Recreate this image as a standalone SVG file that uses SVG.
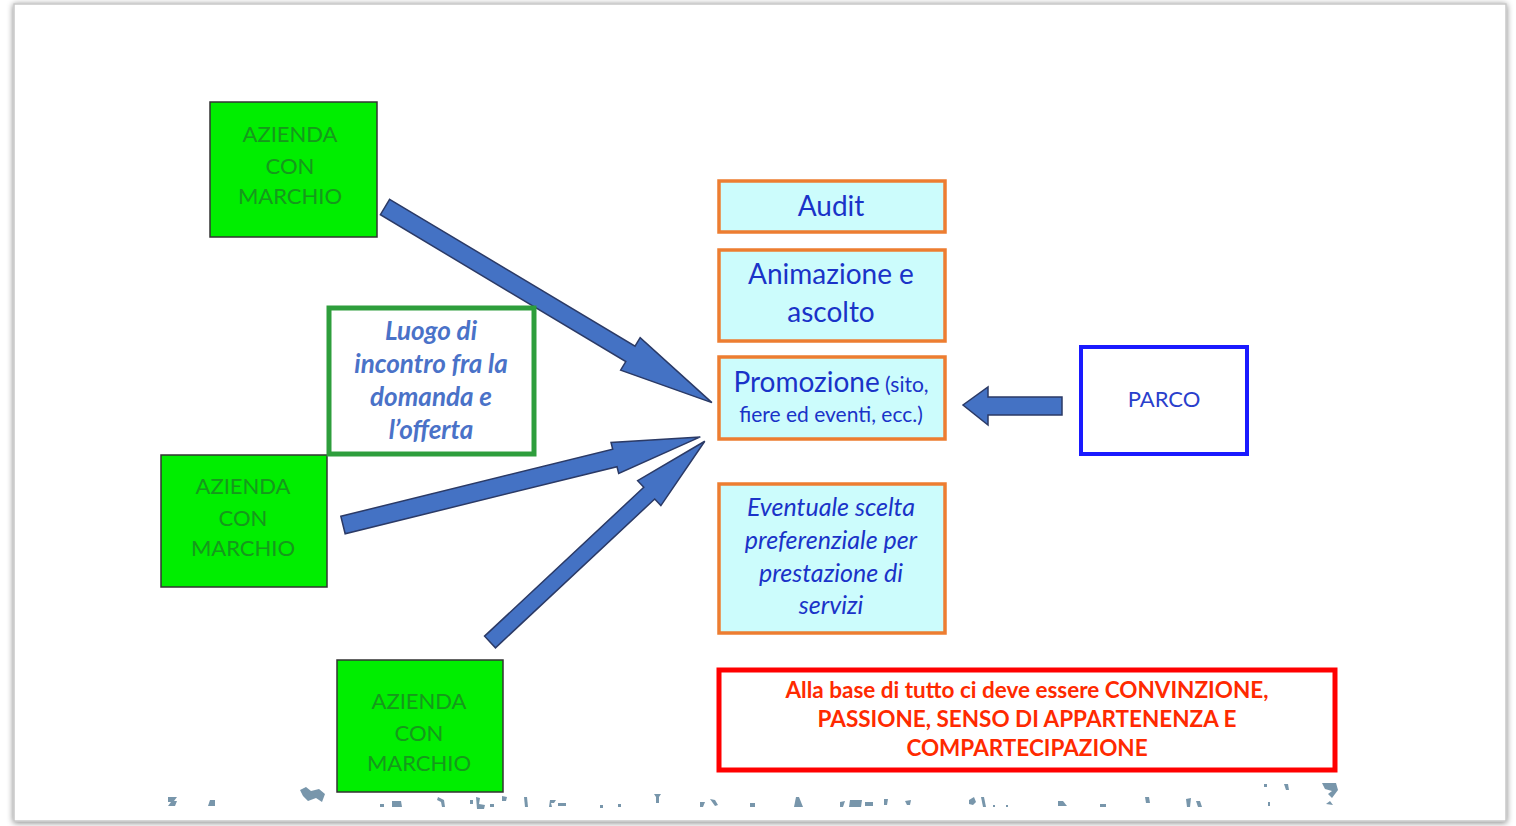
<svg xmlns="http://www.w3.org/2000/svg" width="1516" height="826" viewBox="0 0 1516 826">
<defs>
<filter id="sh" x="-5%" y="-5%" width="110%" height="110%">
<feGaussianBlur in="SourceAlpha" stdDeviation="3"/>
<feOffset dx="0" dy="1"/>
<feComponentTransfer><feFuncA type="linear" slope="0.5"/></feComponentTransfer>
<feMerge><feMergeNode/><feMergeNode in="SourceGraphic"/></feMerge>
</filter>
</defs>
<style>
.az{fill:#00ee00;stroke:#333;stroke-width:1.5}
.azt{font-family:Lato,"Liberation Sans",sans-serif;font-weight:400;font-size:22px;fill:#16981c;text-anchor:middle}
.cy{fill:#ccfcfc;stroke:#ed7d31;stroke-width:3.5}
.bt{font-family:Lato,"Liberation Sans",sans-serif;fill:#1a33c8;text-anchor:middle}
.arr{fill:#4472c4;stroke:#2b3a66;stroke-width:1.5;stroke-linejoin:miter}
.frag{fill:#7896ab}
</style>
<rect width="1516" height="826" fill="#ffffff"/>
<rect x="14" y="4" width="1492" height="817" fill="#ffffff" stroke="#c8c8c8" stroke-width="1.5" filter="url(#sh)"/>

<g id="connectors">
<polygon class="arr" transform="translate(385,207) rotate(30.9)" points="0,-9 286,-9 286,-19 381,0 286,19 286,9 0,9"/>
<polygon class="arr" transform="translate(343,525) rotate(-13.85)" points="0,-9 280,-9 280,-16 368,0 280,16 280,9 0,9"/>
<polygon class="arr" transform="translate(490,642) rotate(-43.07)" points="0,-8 218,-8 218,-17 294,0 218,17 218,8 0,8"/>
<polygon class="arr" points="1062,397 988,397 988,387 963,405 988,425 988,415 1062,415"/>
</g>

<g id="azienda1">
<rect class="az" x="210" y="102" width="167" height="135"/>
<text class="azt" x="290" y="142">AZIENDA</text>
<text class="azt" x="290" y="174">CON</text>
<text class="azt" x="290" y="204">MARCHIO</text>
</g>
<g id="azienda2">
<rect class="az" x="161" y="455" width="166" height="132"/>
<text class="azt" x="243" y="494">AZIENDA</text>
<text class="azt" x="243" y="526">CON</text>
<text class="azt" x="243" y="556">MARCHIO</text>
</g>
<g id="azienda3">
<rect class="az" x="337" y="660" width="166" height="132"/>
<text class="azt" x="419" y="709">AZIENDA</text>
<text class="azt" x="419" y="741">CON</text>
<text class="azt" x="419" y="771">MARCHIO</text>
</g>

<g id="luogo">
<rect x="329" y="308" width="205" height="146" fill="#ffffff" stroke="#2e9e3c" stroke-width="5"/>
<g font-family="Lato,'Liberation Sans',sans-serif" font-weight="bold" font-style="italic" font-size="26" fill="#4a72c8" text-anchor="middle">
<text x="431" y="340">Luogo di</text>
<text x="431" y="373">incontro fra la</text>
<text x="431" y="406">domanda e</text>
<text x="431" y="439">l’offerta</text>
</g>
</g>

<g id="audit">
<rect class="cy" x="719" y="181" width="226" height="51"/>
<text class="bt" x="831" y="216" font-size="28">Audit</text>
</g>
<g id="animazione">
<rect class="cy" x="719" y="250" width="226" height="91"/>
<text class="bt" x="831" y="284" font-size="28">Animazione e</text>
<text class="bt" x="831" y="322" font-size="28">ascolto</text>
</g>
<g id="promozione">
<rect class="cy" x="719" y="357" width="226" height="82"/>
<text class="bt" x="831" y="392"><tspan font-size="28">Promozione</tspan><tspan font-size="21"> (sito,</tspan></text>
<text class="bt" x="831" y="422" font-size="21">fiere ed eventi, ecc.)</text>
</g>
<g id="eventuale">
<rect class="cy" x="719" y="484" width="226" height="149"/>
<g class="bt" font-size="25" font-style="italic" fill="#2438c0">
<text x="831" y="516">Eventuale scelta</text>
<text x="831" y="549">preferenziale per</text>
<text x="831" y="582">prestazione di</text>
<text x="831" y="614">servizi</text>
</g>
</g>

<g id="parco">
<rect x="1081" y="347" width="166" height="107" fill="#ffffff" stroke="#1a1aff" stroke-width="4"/>
<text x="1164" y="407" font-family="Lato,'Liberation Sans',sans-serif" font-size="22" fill="#2a3fcc" text-anchor="middle">PARCO</text>
</g>

<g id="base">
<rect x="719" y="670" width="616" height="100" fill="#ffffff" stroke="#ff0000" stroke-width="5"/>
<g font-family="Lato,'Liberation Sans',sans-serif" font-weight="bold" font-size="22.5" fill="#ff2a00" text-anchor="middle">
<text x="1027" y="698">Alla base di tutto ci deve essere CONVINZIONE,</text>
<text x="1027" y="727">PASSIONE, SENSO DI APPARTENENZA E</text>
<text x="1027" y="756">COMPARTECIPAZIONE</text>
</g>
</g>

<g id="fragments">
<path class="frag" d="M168,797 h9 l-3,4 h3 l-2,5 h-7 l3,-4 h-3z"/>
<path class="frag" d="M210,800 h5 v6 h-7z"/>
<path class="frag" d="M300,790 l6,-3 l5,4 l8,-2 l6,5 l-3,8 l-6,-4 l-8,3 l-5,-5z"/>
<rect class="frag" x="380" y="804" width="4" height="3"/>
<path class="frag" d="M392,801 h9 l1,6 h-10z"/>
<path class="frag" d="M438,797 l6,3 l1,7 h-3 l-1,-5 l-4,-2z"/>
<rect class="frag" x="470" y="800" width="3" height="4"/>
<path class="frag" d="M476,797 l4,1 l-1,6 l6,1 l-1,4 h-7z"/>
<rect class="frag" x="490" y="804" width="4" height="3"/>
<path class="frag" d="M502,796 l5,1 l-1,4 h-4z"/>
<path class="frag" d="M524,797 l3,0 l1,10 h-3z"/>
<path class="frag" d="M550,800 h6 l-2,3 h-3 l1,4 h-3z"/>
<path class="frag" d="M558,803 h8 v3 h-8z"/>
<rect class="frag" x="600" y="805" width="3" height="3"/>
<rect class="frag" x="618" y="804" width="3" height="3"/>
<path class="frag" d="M654,794 h7 l-2,3 v6 h-3 v-6z"/>
<path class="frag" d="M700,802 h5 l-2,5 h-3z"/>
<path class="frag" d="M710,799 l5,1 l3,5 l-3,1 z"/>
<rect class="frag" x="750" y="803" width="5" height="4"/>
<path class="frag" d="M796,797 l3,0 l4,10 h-9z"/>
<path class="frag" d="M840,802 l5,-1 l-2,6 h-3z"/>
<path class="frag" d="M850,800 h12 l-1,7 h-12z"/>
<path class="frag" d="M865,802 h8 v4 h-8z"/>
<path class="frag" d="M884,799 l4,0 l-1,6 h-3z"/>
<path class="frag" d="M905,801 l6,-1 l-1,5 h-3z"/>
<path class="frag" d="M969,800 l5,-3 l2,5 l-3,3 l-4,-1z"/>
<path class="frag" d="M981,797 h3 l2,10 h-3z"/>
<rect class="frag" x="993" y="805" width="2" height="2"/>
<rect class="frag" x="1006" y="805" width="2" height="2"/>
<path class="frag" d="M1058,801 h5 l4,5 h-9z"/>
<path class="frag" d="M1100,804 h6 v3 h-6z"/>
<path class="frag" d="M1145,797 h4 l1,6 h-4z"/>
<path class="frag" d="M1186,799 l5,-1 l-1,9 h-3z"/>
<path class="frag" d="M1196,801 h4 l2,6 h-4z"/>
<rect class="frag" x="1264" y="784" width="3" height="3"/>
<rect class="frag" x="1268" y="802" width="2" height="4"/>
<path class="frag" d="M1284,784 h4 l1,6 h-3z"/>
<path class="frag" d="M1322,783 l14,0 l2,7 l-6,8 l-4,-4 l4,-3 l-7,-2z"/>
<path class="frag" d="M1326,804 l4,-3 l3,4 z"/>
</g>
</svg>
